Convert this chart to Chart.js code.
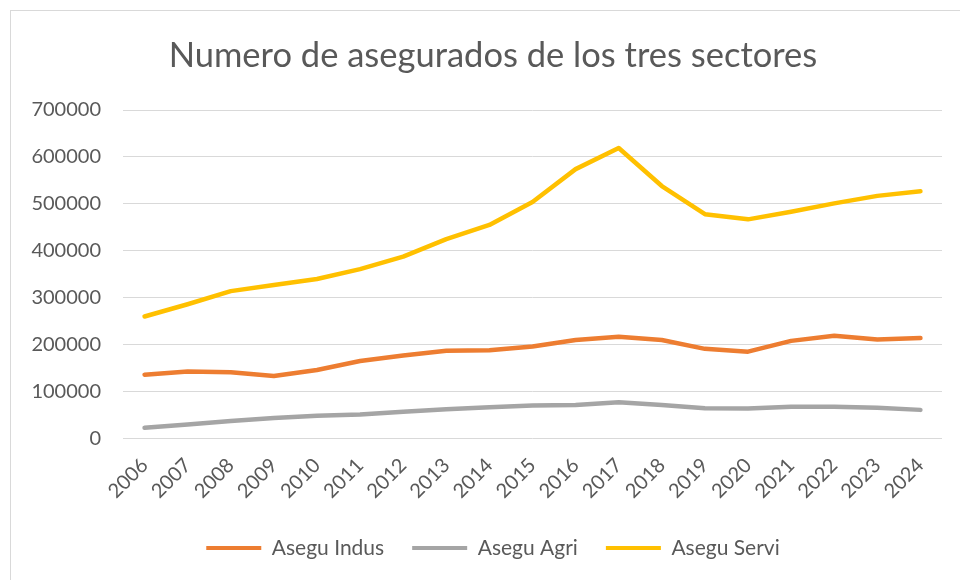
<!DOCTYPE html>
<html>
<head>
<meta charset="utf-8">
<script src="https://cdn.jsdelivr.net/npm/chart.js@4.4.1/dist/chart.umd.min.js"></script>
<style>
  body { margin: 0; background: #ffffff; overflow: hidden; }
  #frame { position: absolute; left: 10px; top: 10px; width: 1000px; height: 1000px; border: 1.5px solid #d9d9d9; }
  #wrap { position: absolute; left: 0; top: 0; width: 960px; height: 580px; }
</style>
</head>
<body>
<div id="frame"></div>
<div id="wrap"><canvas id="myChart" width="960" height="580"></canvas></div>
<script>
  var years = ['2006', '2007', '2008', '2009', '2010', '2011', '2012', '2013', '2014', '2015',
               '2016', '2017', '2018', '2019', '2020', '2021', '2022', '2023', '2024'];
  var aseguIndus = [136000, 143000, 141000, 133000, 146000, 165000, 177000, 187000, 188000, 196000,
                    210000, 217000, 210000, 191000, 185000, 208000, 219000, 211000, 214000];
  var aseguAgri = [23000, 30000, 37500, 43500, 48500, 51000, 57000, 62500, 66500, 70500,
                   71500, 77500, 71500, 64500, 64000, 67500, 67500, 65500, 61000];
  var aseguServi = [260000, 286000, 314000, 327000, 340000, 361000, 387500, 425000, 455000, 504000,
                    574000, 619000, 538000, 478000, 467000, 483000, 501000, 517000, 527000];

  var titulo = 'Numero de asegurados de los tres sectores';
  var fuente = 'Lato';

  function serie(label, data, color) {
    return {
      label: label,
      data: data,
      borderColor: color,
      backgroundColor: color,
      borderWidth: 4.5,
      borderCapStyle: 'round',
      borderJoinStyle: 'round',
      pointRadius: 0,
      tension: 0,
      fill: false
    };
  }

  // move title and legend a bit to the right, like in the original
  var shiftBoxes = {
    id: 'shiftBoxes',
    afterLayout: function (chart) {
      [chart.titleBlock, chart.legend].forEach(function (b) {
        if (b) { b.left += 22; b.right += 22; }
      });
    }
  };

  window.onload = function () {
    Chart.defaults.color = '#595959';
    Chart.defaults.font.family = fuente;

    var ctx = document.getElementById('myChart').getContext('2d');
    var config = {
      type: 'line',
      data: {
        labels: years,
        datasets: [
          serie('Asegu Indus', aseguIndus, '#ED7D31'),
          serie('Asegu Agri', aseguAgri, '#A5A5A5'),
          serie('Asegu Servi', aseguServi, '#FFC000')
        ]
      },
      options: {
        responsive: false,
        animation: false,
        layout: { padding: { top: 0, right: 18, bottom: 11.5, left: 0 } },
        plugins: {
          title: {
            display: true,
            text: titulo,
            color: '#595959',
            font: { family: fuente, size: 34.5, weight: 'normal' },
            padding: { top: 35, bottom: 33.6 }
          },
          legend: {
            position: 'bottom',
            labels: {
              font: { family: fuente, size: 21 },
              color: '#595959',
              boxWidth: 55,
              boxHeight: 4,
              padding: 28,
              generateLabels: function (chart) {
                var items = Chart.defaults.plugins.legend.labels.generateLabels(chart);
                items.forEach(function (it) {
                  it.fillStyle = it.strokeStyle;
                  it.lineWidth = 0;
                });
                return items;
              }
            }
          },
          tooltip: { enabled: false }
        },
        scales: {
          x: {
            offset: true,
            grid: { display: false, drawTicks: false },
            border: { display: false },
            ticks: {
              autoSkip: false,
              minRotation: 45,
              maxRotation: 45,
              padding: 15,
              font: { family: fuente, size: 20 },
              color: '#595959'
            },
            afterFit: function (scale) { scale.height = 71; }
          },
          y: {
            min: 0,
            max: 700000,
            grid: { color: '#d9d9d9', lineWidth: 1, drawTicks: false },
            border: { display: false },
            ticks: {
              stepSize: 100000,
              padding: 22,
              font: { family: fuente, size: 20 },
              color: '#595959',
              callback: function (v) { return String(v); }
            },
            afterFit: function (scale) { scale.width = 123; }
          }
        }
      },
      plugins: [shiftBoxes]
    };
    var myChart = new Chart(ctx, config);
  };
</script>
</body>
</html>
